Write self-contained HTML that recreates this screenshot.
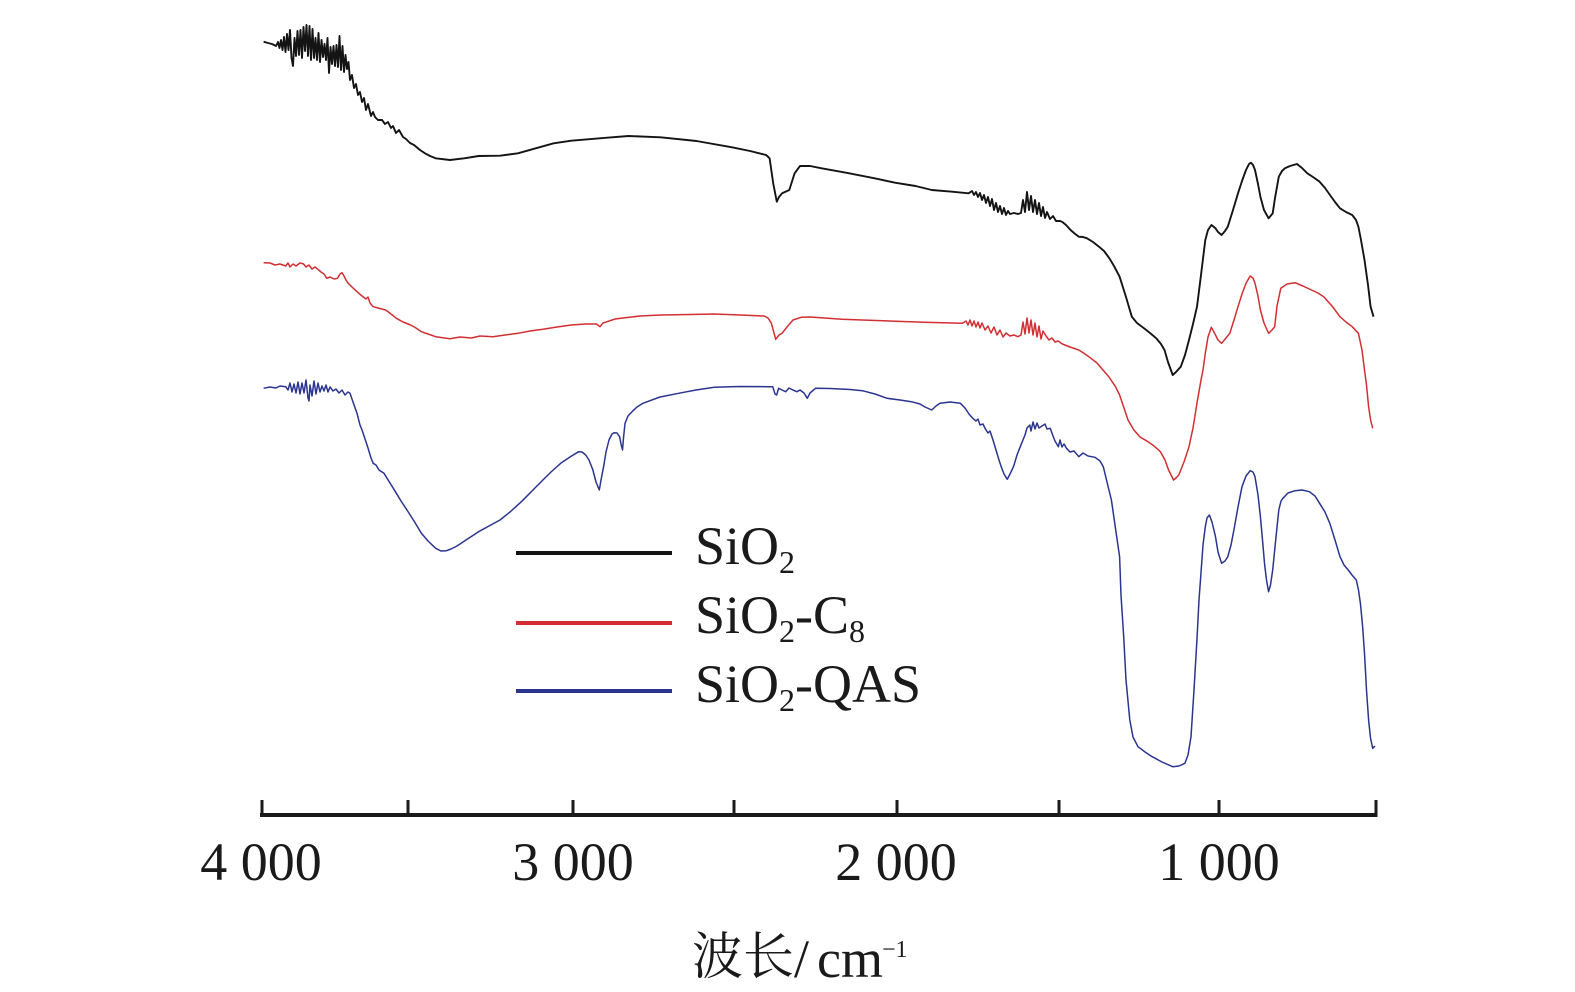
<!DOCTYPE html>
<html>
<head>
<meta charset="utf-8">
<style>
  html,body{margin:0;padding:0;background:#ffffff;}
  svg{display:block;}
  .lab{font-family:"Liberation Serif","Noto Serif CJK SC",serif;fill:#1a1a1a;}
</style>
</head>
<body>
<svg width="1575" height="992" viewBox="0 0 1575 992" xmlns="http://www.w3.org/2000/svg">
<rect x="0" y="0" width="1575" height="992" fill="#ffffff"/>

<!-- black SiO2 -->
<path fill="none" stroke="#141414" stroke-width="1.9" stroke-linejoin="round" d="M263.6,41.7 L268,43 272,44 276,46 278,42 279.5,48 281,40 282.5,50 284,37 285.5,52 287,34 288.5,50 290,30 291.5,58 293,66 294.5,38 296,56 297.5,31 299,55 300.5,30 302,58 303.5,27 305,51 306.5,25 308,56 309.5,26 311,60 312.5,29 314,58 315.5,38 317,60 318.5,33 320,62 321.5,40 323,57 324.5,44 326,60 327.5,38 329,73 330.5,47 332,64 333.5,46 335,66 336.5,45 338,67 339.5,36 341,70 342.5,46 344,72 345.5,55 347,69 348.5,62 350,80 352,75 354,88 356,84 358,95 360,92 362,102 364,98 366,110 368,104 371,116 373,112 375,117 378,120 382,120 385,124 388,122 391,128 393,126 396,133 399,130 403,137 406,139 410,143 414,145 420,150 425,153.3 430,156 435.7,158.3 450,160 464.3,158.3 478.6,156 500,155.7 517.9,153.3 535.7,148.3 553.6,143.3 571.4,140.7 607.1,137.7 628.6,136 660.7,137.3 696.4,141 732.1,147.3 750,151 766.1,155 769.6,158.3 773.2,183.3 776.8,201.7 779,197 782.1,193.3 789.3,190 794.6,173.3 800,166 810,166 821.6,168.3 846,172.7 874.7,178.3 895,182.7 915.5,186 931.8,190 952,191.7 968.6,193.3 972,191 974,195 976,192 978,197 980,193 982,200 984,195 986,203 988,197 990,206 992,199 994,210 996,203 998,212 1000,206 1002,214 1004,208 1006,215 1008,211 1010,214 1014,213 1018,214 1021,213 1023,200 1025,212 1027,192 1029,210 1031,196 1033,212 1035,200 1037,214 1039,203 1041,216 1043,207 1045,218 1047,212 1050,219 1053,216 1056,221 1060,221 1062.4,222 1066,225 1070.6,230 1074,233 1078.8,236.7 1083,237 1087,238.3 1093,242 1099,246.7 1104,251 1109.4,258.3 1114,266 1119.6,276.7 1126,297 1131.8,316.7 1137,323 1144,328.3 1150,333 1156.3,338.3 1161,344 1164.5,350 1168,362 1172.7,375 1176,372 1180.8,366.7 1185,355 1189,340 1193,324 1197,306.7 1201,275 1205.3,240 1208,230 1211.4,225 1215.5,228.3 1218,232 1221.6,235 1225,231 1227.8,226.7 1233,210 1238,193.3 1242,181 1246,170 1249,164 1251,162.7 1253,165 1255,170 1258,184 1260.4,196.7 1264,210 1268.6,218.3 1272.7,213.3 1275,198 1278.8,176.7 1282,171 1284.9,168.3 1290,166 1297,164 1302,168 1307.3,173.3 1313,177 1319.6,181.7 1325,188 1330,195 1335,202 1340,208.3 1346,212 1352.2,215 1356,220 1358.4,226.7 1361,240 1364.5,260 1368,285 1370.6,306.7 1373.5,316.7"/>

<!-- red SiO2-C8 -->
<path fill="none" stroke="#d22f33" stroke-width="1.5" stroke-linejoin="round" d="M263.6,262.7 L270,263 275,265 280,264 285.7,266 288,263 290,267 293,264 296,266 300,263 303.6,264 306,267 309,265 312,269 315,267 317.9,269.3 321,272 324,274 326.8,278.3 330,277 334,279 337.5,278.3 340,274 342,272.7 344,276 346,280 348.2,283.3 352,287 357,291.7 362,296 366,299 368,297 370,303 373.2,306.7 378,308 385.7,310 391,314 396.4,318.3 403,322 410.7,325 416,328 421.4,331.7 428,334 435.7,336.7 450,338.7 460,337 471.4,338 480,336 492.9,336.7 505,335 517.9,333.3 530,331 542.9,329.3 557,327 571.4,325 585,324 596.4,324 600,326.7 603,323 607,321.7 615,319 625,317.7 640,316 660.7,315 690,314.5 714.3,314 740,315 764.3,316 768,318 771.4,323.3 775.7,339.3 779,335 782,333.3 787,327 793,320 801.2,317.3 810,317 842,319.3 882.9,320.7 923.7,322.3 962.4,323.3 966,321 968,325 970,320 972,326 974,321 976,327 978,322 980,328 982,323 985,330 988,326 991,333 994,327 997,335 1000,330 1003,337 1006,333 1010,336 1014,335 1018,336.7 1021,335 1023,322 1025,334 1027,318 1029,333 1031,320 1033,335 1035,323 1037,337 1039,326 1041,339 1043,331 1046,336 1049,340 1052,338 1055,342 1058,341 1062.4,344 1070,347 1078.8,350 1085,354 1091,358.3 1097,363 1103,370 1109,377 1115.5,386.7 1119.6,395 1124,408 1128,420 1133.9,430 1140,437 1148,441.7 1154,446 1160.4,451.7 1165,460 1168.6,470 1173.5,480 1176,478 1178.8,475 1184,462 1189,446.7 1193,428 1197,403 1201,380 1203,370 1205.3,353.3 1208,337 1211.4,327.3 1215,334 1218,340 1221.6,343.3 1226,338 1229.8,333.3 1234,320 1238,306.7 1242,294 1246,283.3 1250.2,276 1253,278 1255,283.3 1258,296 1260.4,310 1264,323 1268.6,333.3 1272,330 1274.7,326.7 1277,306 1280.8,288.3 1287,284 1295,282.7 1303,286 1311.4,290 1318,293 1323.7,296.7 1332,306 1340,316.7 1346,322 1352.2,326.7 1358.4,333.3 1362,350 1364.5,370 1366.5,385 1368.6,406.7 1370.6,420 1372.7,428.3"/>

<!-- blue SiO2-QAS -->
<path fill="none" stroke="#2b3590" stroke-width="1.5" stroke-linejoin="round" d="M263.6,388.3 L270,387 276,388 280,386 285.7,386.7 288,390 290,383 292,392 294,384 296,393 298,382 300,394 302,383 304,393 306,380 308,398 309,401 310,385 312,396 314,381 316,394 318,383 320,392 322,386 324,391 326,385 328,392 330,387 333,391 336,389 339,393 342,390 345,395 348,392 350,393.3 353,402 357,413.3 360,425 362,430 364.3,436.7 368,448 371,458 373.2,463.3 376,465 379,470 384,473.3 390,483 396.4,493.3 401,501 407,510 414,521 421.4,533.3 428,541 435.7,548.3 441,551 446.4,550.7 451,549 457,546 466,540 478.6,531.7 489,526 500,520 510,512 521.4,501.7 532,491 542.9,480 551,472 560.7,463.3 570,457 578.6,451.7 582,452 585.7,455 589,460 592.9,470 596,482 599.3,490 601,480 603.6,466.7 606,452 609,440 612,434 614.3,432.7 617,433 619.6,436.7 621,444 622.5,450 623.5,438 625,423.3 628,416 632,411.7 637,407 642.9,403.3 660,397 678.6,393.3 696,390 714.3,387.3 740,386.5 767.9,386.7 772.7,386.7 775,394 776.7,395 778.6,388.3 782,390 785.7,391.7 789,388 792.9,390 797,391.7 800,390 804,393 807.3,398.3 810,393 815.5,388.3 830,388.5 850,389.5 862.4,390.7 875,394 887,398.3 900,400 911.4,401.7 920,404 925,407 931.8,410 936,406 940,403.3 950,402 960.4,403.3 965,408 969,414 972.7,418.3 976,421 978,419 980,425 983,424 985,428.3 988,433 990,431 993,440 996,450 999,460 1001.2,466.7 1004,474 1007.3,479.3 1010,474 1013.5,466.7 1017,455 1021.6,443.3 1025,435 1027,428 1029.8,425 1031,431 1033,422 1035,429 1037,423 1039,428 1042,426 1045,424 1047,429 1050.2,428.3 1053,436 1055,441 1058.4,446.7 1060,440 1062,447 1064,444 1066.5,448.3 1070,452 1074,451 1078.8,456.7 1083,453 1088,456 1095,457.3 1100,461 1103.3,466.7 1107,482 1111.4,500 1115,525 1119.6,556.7 1121,595 1123.7,636.7 1126,680 1129.8,720 1133,737 1138,746.7 1145,752 1152.2,756.7 1162,762 1172.7,766.7 1179,766 1184.9,763.3 1188,755 1191,736.7 1194,690 1197.1,636.7 1199,600 1201.2,570 1203,545 1205.3,526.7 1207,518 1209.4,515 1212,522 1215.5,536.7 1218,552 1221.6,563.3 1225,561 1227.8,556.7 1231,545 1233.9,530 1238,507 1242,486.7 1246,476 1250.2,470.7 1253,472 1255,476.7 1258,495 1260.4,516.7 1262.5,540 1264.5,563.3 1266.5,580 1268.6,591.7 1270.5,585 1272.7,570 1276,537 1278.8,510 1281,501 1282.9,498.3 1288,493 1295,490.7 1302,490 1309.4,491.7 1315,496 1319.6,503.3 1325,512 1329.8,523.3 1335,540 1340,556.7 1344,565 1348.2,570 1352,575 1356.3,580 1358.5,590 1360.4,603.3 1362.5,625 1364.5,653.3 1366.5,690 1368.6,720 1370.5,738 1372.7,748.3 1375,746"/>

<!-- x axis -->
<line x1="260" y1="815" x2="1377.5" y2="815" stroke="#1a1a1a" stroke-width="4"/>
<g stroke="#1a1a1a" stroke-width="3">
  <line x1="262" y1="800" x2="262" y2="816"/>
  <line x1="408" y1="800" x2="408" y2="816"/>
  <line x1="573" y1="800" x2="573" y2="816"/>
  <line x1="734" y1="800" x2="734" y2="816"/>
  <line x1="897" y1="800" x2="897" y2="816"/>
  <line x1="1059" y1="800" x2="1059" y2="816"/>
  <line x1="1219" y1="800" x2="1219" y2="816"/>
  <line x1="1376" y1="800" x2="1376" y2="816"/>
</g>
<g class="lab" font-size="54" text-anchor="middle">
  <text x="261" y="880">4 000</text>
  <text x="573" y="880">3 000</text>
  <text x="896" y="880">2 000</text>
  <text x="1219" y="880">1 000</text>
</g>

<!-- axis title -->
<text x="692" y="974" font-family="'Noto Serif CJK SC','Noto Sans CJK SC',serif" font-size="51" fill="#1a1a1a">波长</text>
<text x="794" y="977" class="lab" font-size="54">/</text>
<text x="817" y="977" class="lab" font-size="54">cm</text>
<text x="882" y="957" class="lab" font-size="24">−1</text>

<!-- legend -->
<line x1="516" y1="553" x2="672" y2="553" stroke="#141414" stroke-width="4"/>
<line x1="516" y1="623" x2="672" y2="623" stroke="#d22f33" stroke-width="4"/>
<line x1="516" y1="691" x2="672" y2="691" stroke="#2b3590" stroke-width="4"/>
<g class="lab" font-size="54">
  <text x="695" y="564">SiO<tspan font-size="32" dy="9">2</tspan></text>
  <text x="695" y="633">SiO<tspan font-size="32" dy="9">2</tspan><tspan dy="-9">-C</tspan><tspan font-size="32" dy="9">8</tspan></text>
  <text x="695" y="702">SiO<tspan font-size="32" dy="9">2</tspan><tspan dy="-9">-QAS</tspan></text>
</g>
</svg>
</body>
</html>
